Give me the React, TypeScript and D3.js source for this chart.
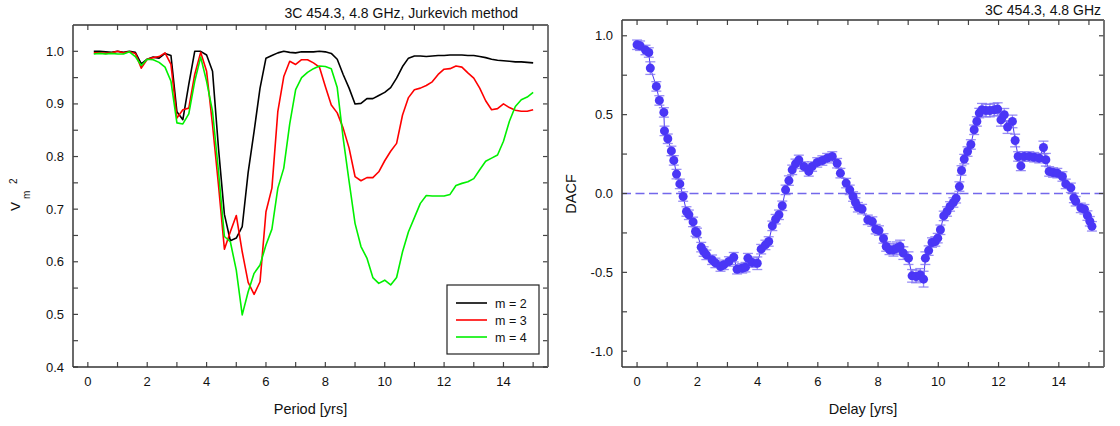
import React from "react";
import * as d3 from "d3";

// ---------- Left panel data (Jurkevich V_m^2 vs trial period) ----------
const period = [
  0.2, 0.4, 0.6, 0.8, 1.0, 1.2, 1.4, 1.6, 1.8, 2.0, 2.2, 2.4, 2.6, 2.8, 3.0, 3.2, 3.4, 3.6, 3.8, 4.0,
  4.2, 4.4, 4.6, 4.8, 5.0, 5.2, 5.4, 5.6, 5.8, 6.0, 6.2, 6.4, 6.6, 6.8, 7.0, 7.2, 7.4, 7.6, 7.8, 8.0,
  8.2, 8.4, 8.6, 8.8, 9.0, 9.2, 9.4, 9.6, 9.8, 10.0, 10.2, 10.4, 10.6, 10.8, 11.0, 11.2, 11.4, 11.6, 11.8, 12.0,
  12.2, 12.4, 12.6, 12.8, 13.0, 13.2, 13.4, 13.6, 13.8, 14.0, 14.2, 14.4, 14.6, 14.8, 15.0,
];
const vm2 = [
  1.0, 1.0, 0.999, 0.998, 1.0, 0.998, 1.0, 0.998, 0.976, 0.985, 0.989, 0.987, 0.996, 0.992, 0.885, 0.87, 0.937, 1.0, 1.0, 0.993,
  0.962, 0.816, 0.69, 0.64, 0.645, 0.667, 0.77, 0.848, 0.93, 0.987, 0.992, 0.997, 1.0, 0.998, 0.997, 0.999, 0.999, 0.999, 1.0, 0.999,
  0.996, 0.985, 0.956, 0.93, 0.9, 0.901, 0.91, 0.91, 0.916, 0.922, 0.931, 0.949, 0.971, 0.987, 0.991, 0.991, 0.99, 0.991, 0.992, 0.992,
  0.993, 0.993, 0.993, 0.992, 0.992, 0.99, 0.988, 0.985, 0.983, 0.982, 0.981, 0.98, 0.98, 0.979, 0.978,
];
const vm3 = [
  0.997, 0.997, 0.996, 0.997, 1.0, 0.997, 0.999, 0.996, 0.968, 0.985, 0.988, 0.99, 0.997, 0.975, 0.873, 0.889, 0.892, 0.956, 0.998, 0.962,
  0.86, 0.746, 0.624, 0.657, 0.688, 0.619, 0.561, 0.538, 0.562, 0.695, 0.74, 0.886, 0.952, 0.981, 0.975, 0.984, 0.984, 0.978, 0.97, 0.933,
  0.898, 0.883, 0.854, 0.816, 0.762, 0.754, 0.76, 0.76, 0.771, 0.792, 0.81, 0.825, 0.879, 0.912, 0.927, 0.93, 0.935, 0.942, 0.956, 0.966,
  0.967, 0.972, 0.97, 0.959, 0.949, 0.93, 0.906, 0.889, 0.891, 0.9, 0.893, 0.888, 0.886, 0.886, 0.889,
];
const vm4 = [
  0.995, 0.996, 0.995, 0.996, 0.995, 0.995, 0.999, 0.99, 0.973, 0.985, 0.984, 0.979, 0.97, 0.943, 0.864, 0.862, 0.881, 0.943, 0.989, 0.943,
  0.886, 0.772, 0.648, 0.638, 0.584, 0.499, 0.543, 0.578, 0.594, 0.632, 0.662, 0.74, 0.778, 0.862, 0.927, 0.95, 0.96, 0.967, 0.972, 0.971,
  0.967, 0.931, 0.835, 0.753, 0.673, 0.629, 0.607, 0.57, 0.559, 0.565, 0.556, 0.57, 0.619, 0.657, 0.684, 0.711, 0.726, 0.725, 0.725, 0.725,
  0.728, 0.745, 0.749, 0.752, 0.758, 0.775, 0.791, 0.797, 0.803, 0.829, 0.867, 0.895, 0.908, 0.913, 0.922,
];
const seriesNames = ["m = 2", "m = 3", "m = 4"];
const seriesColors = ["#000000", "#ff0000", "#00f000"];

// ---------- Right panel data (DACF) ----------
const delay = [
  0.0, 0.1, 0.28, 0.39, 0.44, 0.64, 0.74, 0.89, 0.91, 1.02, 1.14, 1.22, 1.31, 1.42, 1.53, 1.64, 1.72, 1.86, 1.94, 1.99,
  2.13, 2.21, 2.3, 2.49, 2.6, 2.77, 2.88, 3.05, 3.21, 3.32, 3.49, 3.6, 3.68, 3.82, 3.99, 4.12, 4.26, 4.37, 4.49, 4.6,
  4.71, 4.82, 4.93, 5.04, 5.15, 5.26, 5.37, 5.54, 5.7, 5.81, 5.98, 6.15, 6.31, 6.48, 6.64, 6.75, 6.94, 7.06, 7.17, 7.25,
  7.33, 7.47, 7.66, 7.81, 7.92, 8.03, 8.18, 8.27, 8.38, 8.51, 8.62, 8.73, 8.84, 9.01, 9.13, 9.26, 9.4, 9.51, 9.57, 9.68,
  9.79, 9.9, 9.98, 10.07, 10.18, 10.29, 10.39, 10.5, 10.59, 10.7, 10.77, 10.86, 10.97, 11.08, 11.19, 11.28, 11.36, 11.45, 11.58, 11.71,
  11.86, 11.97, 12.08, 12.19, 12.3, 12.46, 12.55, 12.65, 12.74, 12.85, 13.02, 13.18, 13.35, 13.49, 13.57, 13.68, 13.81, 13.95, 14.12, 14.23,
  14.4, 14.5, 14.56, 14.73, 14.85, 14.95, 15.03, 15.1,
];
const dacf = [
  0.943, 0.937, 0.91, 0.894, 0.795, 0.679, 0.59, 0.514, 0.397, 0.347, 0.27, 0.21, 0.123, 0.061, -0.019, -0.114, -0.135, -0.18, -0.241, -0.25,
  -0.34, -0.368, -0.389, -0.42, -0.44, -0.463, -0.452, -0.431, -0.404, -0.48, -0.474, -0.467, -0.41, -0.438, -0.442, -0.353, -0.326, -0.304, -0.205, -0.163,
  -0.135, -0.078, 0.023, 0.082, 0.15, 0.188, 0.213, 0.171, 0.14, 0.171, 0.197, 0.209, 0.224, 0.235, 0.192, 0.129, 0.066, 0.023, -0.019, -0.057,
  -0.087, -0.099, -0.167, -0.178, -0.226, -0.235, -0.285, -0.336, -0.357, -0.357, -0.347, -0.336, -0.378, -0.41, -0.522, -0.526, -0.516, -0.543, -0.41, -0.362,
  -0.311, -0.304, -0.283, -0.23, -0.142, -0.114, -0.082, -0.057, -0.03, 0.044, 0.146, 0.218, 0.266, 0.311, 0.404, 0.457, 0.51, 0.531, 0.526, 0.526,
  0.531, 0.535, 0.467, 0.499, 0.421, 0.457, 0.336, 0.235, 0.175, 0.235, 0.235, 0.23, 0.224, 0.292, 0.214, 0.14, 0.133, 0.129, 0.108, 0.061,
  0.036, -0.028, -0.049, -0.091, -0.1, -0.14, -0.176, -0.208,
];
const dacfErr = [
  0.03, 0.03, 0.03, 0.03, 0.04, 0.03, 0.03, 0.03, 0.03, 0.03, 0.03, 0.03, 0.03, 0.03, 0.03, 0.03, 0.03, 0.03, 0.03, 0.03,
  0.03, 0.03, 0.03, 0.03, 0.03, 0.03, 0.03, 0.03, 0.03, 0.03, 0.03, 0.03, 0.03, 0.03, 0.04, 0.03, 0.03, 0.03, 0.03, 0.03,
  0.03, 0.03, 0.03, 0.03, 0.03, 0.03, 0.03, 0.03, 0.03, 0.03, 0.03, 0.03, 0.03, 0.03, 0.03, 0.03, 0.03, 0.03, 0.03, 0.03,
  0.03, 0.03, 0.03, 0.03, 0.03, 0.03, 0.03, 0.03, 0.03, 0.04, 0.04, 0.04, 0.04, 0.04, 0.04, 0.04, 0.04, 0.05, 0.04, 0.03,
  0.03, 0.03, 0.03, 0.03, 0.03, 0.03, 0.03, 0.03, 0.03, 0.03, 0.03, 0.03, 0.03, 0.03, 0.03, 0.03, 0.03, 0.04, 0.04, 0.04,
  0.04, 0.04, 0.04, 0.04, 0.04, 0.04, 0.04, 0.03, 0.03, 0.03, 0.03, 0.03, 0.03, 0.04, 0.04, 0.03, 0.03, 0.03, 0.03, 0.03,
  0.03, 0.03, 0.03, 0.03, 0.03, 0.03, 0.03, 0.03,
];

// ---------- Axis tick values / labels ----------
const xMinorTicks = [0, 1, 2, 3, 4, 5, 6, 7, 8, 9, 10, 11, 12, 13, 14, 15];
const xLabelTicks = [0, 2, 4, 6, 8, 10, 12, 14];
const leftYMinor = [0.4, 0.45, 0.5, 0.55, 0.6, 0.65, 0.7, 0.75, 0.8, 0.85, 0.9, 0.95, 1.0];
const leftYLabels = ["0.4", "0.5", "0.6", "0.7", "0.8", "0.9", "1.0"];
const rightYMinor = [-1.0, -0.75, -0.5, -0.25, 0, 0.25, 0.5, 0.75, 1.0];
const rightYLabels = ["-1.0", "-0.5", "0.0", "0.5", "1.0"];

const FONT = "'Liberation Sans', Arial, Helvetica, sans-serif";
const TICK = 5;

type Box = { l: number; r: number; t: number; b: number };

function Frame({ box, x, y, yMinor, yLabels, xTitle }: any) {
  const frameColor = "#444";
  return (
    <g>
      {xMinorTicks.map((v) => (
        <g key={"xt" + v}>
          <line x1={x(v)} x2={x(v)} y1={box.b} y2={box.b - TICK} stroke={frameColor} strokeWidth={1.2} />
          <line x1={x(v)} x2={x(v)} y1={box.t} y2={box.t + TICK} stroke={frameColor} strokeWidth={1.2} />
        </g>
      ))}
      {yMinor.map((v: number) => (
        <g key={"yt" + v}>
          <line x1={box.l} x2={box.l + TICK} y1={y(v)} y2={y(v)} stroke={frameColor} strokeWidth={1.2} />
          <line x1={box.r} x2={box.r - TICK} y1={y(v)} y2={y(v)} stroke={frameColor} strokeWidth={1.2} />
        </g>
      ))}
      <line x1={box.l} x2={box.r} y1={box.t} y2={box.t} stroke="#333" strokeWidth={1.5} />
      <line x1={box.l} x2={box.l} y1={box.t} y2={box.b} stroke="#444" strokeWidth={1.6} />
      <line x1={box.l} x2={box.r} y1={box.b} y2={box.b} stroke="#333" strokeWidth={1.6} />
      <line x1={box.r} x2={box.r} y1={box.t} y2={box.b} stroke="#666" strokeWidth={1.8} />
      {xLabelTicks.map((v) => (
        <text key={"xl" + v} x={x(v)} y={box.b + 19} textAnchor="middle" fontSize={13} fontFamily={FONT} fill="#111">
          {v}
        </text>
      ))}
      {yLabels.map((s: string) => (
        <text key={"yl" + s} x={box.l - 9} y={y(+s) + 4.5} textAnchor="end" fontSize={13} fontFamily={FONT} fill="#111">
          {s}
        </text>
      ))}
      <text x={(box.l + box.r) / 2} y={414} textAnchor="middle" fontSize={14.5} fontFamily={FONT} fill="#111">
        {xTitle}
      </text>
    </g>
  );
}

export default function App() {
  const L: Box = { l: 73, r: 548, t: 25, b: 367 };
  const R: Box = { l: 622, r: 1104, t: 20, b: 367 };
  const xL = d3.scaleLinear().domain([-0.5, 15.5]).range([L.l, L.r]);
  const yL = d3.scaleLinear().domain([0.4, 1.05]).range([L.b, L.t]);
  const xR = d3.scaleLinear().domain([-0.5, 15.5]).range([R.l, R.r]);
  const yR = d3.scaleLinear().domain([-1.1, 1.1]).range([R.b, R.t]);

  const allSeries = [vm2, vm3, vm4];
  const line = (vals: number[]) =>
    d3
      .line<number>()
      .x((_, i) => xL(period[i]))
      .y((d) => yL(d))(vals) as string;

  const dacfLine = d3
    .line<number>()
    .x((_, i) => xR(delay[i]))
    .y((d) => yR(d))(dacf) as string;

  const legend = { l: 447, t: 285, w: 92, h: 69 };
  const ptColor = "#4a36f6";
  const errColor = "#7f72f2";

  return (
    <svg width={1120} height={426} style={{ position: "absolute", left: 0, top: 0, background: "#fff" }}>
      <rect x={0} y={0} width={1120} height={426} fill="#fff" />
      <defs>
        <clipPath id="clipL">
          <rect x={L.l} y={L.t} width={L.r - L.l} height={L.b - L.t} />
        </clipPath>
        <clipPath id="clipR">
          <rect x={R.l} y={R.t} width={R.r - R.l} height={R.b - R.t} />
        </clipPath>
      </defs>
      {/* ---------- Left panel ---------- */}
      <text x={L.r - 30} y={18} textAnchor="end" fontSize={14} fontFamily={FONT} fill="#111">
        3C 454.3, 4.8 GHz, Jurkevich method
      </text>
      <g clipPath="url(#clipL)">
        {allSeries.map((s, k) => (
          <path key={k} d={line(s)} fill="none" stroke={seriesColors[k]} strokeWidth={1.6} strokeLinejoin="round" />
        ))}
      </g>
      <Frame box={L} x={xL} y={yL} yMinor={leftYMinor} yLabels={leftYLabels} xTitle="Period [yrs]" />
      <g transform="translate(20,211) rotate(-90)" fontFamily={FONT} fill="#111">
        <text x={0} y={0} fontSize={13.5}>V</text>
        <text x={12} y={10} fontSize={10}>m</text>
        <text x={27} y={-3} fontSize={10}>2</text>
      </g>
      {/* legend */}
      <rect x={legend.l} y={legend.t} width={legend.w} height={legend.h} fill="#fff" stroke="#222" strokeWidth={1.2} />
      {seriesNames.map((n, k) => (
        <g key={n}>
          <line
            x1={legend.l + 9}
            x2={legend.l + 40}
            y1={legend.t + 18 + k * 17}
            y2={legend.t + 18 + k * 17}
            stroke={seriesColors[k]}
            strokeWidth={1.6}
          />
          <text x={legend.l + 48} y={legend.t + 22.5 + k * 17} fontSize={12.5} fontFamily={FONT} fill="#111">
            {n}
          </text>
        </g>
      ))}

      {/* ---------- Right panel ---------- */}
      <text x={R.r - 3} y={15} textAnchor="end" fontSize={14} fontFamily={FONT} fill="#111">
        3C 454.3, 4.8 GHz
      </text>
      <g clipPath="url(#clipR)">
        <line
          x1={R.l}
          x2={R.r}
          y1={yR(0)}
          y2={yR(0)}
          stroke="#5a4ee8"
          strokeOpacity={0.85}
          strokeWidth={1.6}
          strokeDasharray="9,4.5"
        />
        <path d={dacfLine} fill="none" stroke={ptColor} strokeWidth={1} />
        {dacf.map((v, i) => {
          const cx = xR(delay[i]);
          const y1 = yR(v + dacfErr[i]);
          const y2 = yR(v - dacfErr[i]);
          return (
            <g key={"e" + i} stroke={errColor} strokeOpacity={0.8} strokeWidth={1.3}>
              <line x1={cx} x2={cx} y1={y1} y2={y2} />
              <line x1={cx - 5} x2={cx + 5} y1={y1} y2={y1} />
              <line x1={cx - 5} x2={cx + 5} y1={y2} y2={y2} />
            </g>
          );
        })}
        {dacf.map((v, i) => (
          <circle key={"p" + i} cx={xR(delay[i])} cy={yR(v)} r={4.5} fill={ptColor} />
        ))}
      </g>
      <Frame box={R} x={xR} y={yR} yMinor={rightYMinor} yLabels={rightYLabels} xTitle="Delay [yrs]" />
      <text transform="translate(576,194) rotate(-90)" textAnchor="middle" fontSize={14.5} fontFamily={FONT} fill="#111">
        DACF
      </text>
    </svg>
  );
}
